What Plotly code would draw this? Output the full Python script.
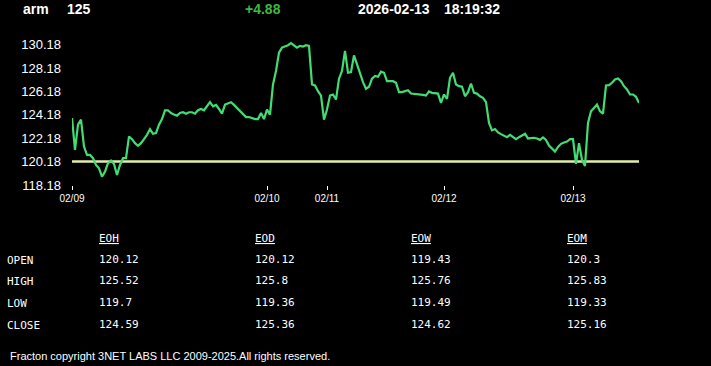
import plotly.graph_objects as go
import numpy as np

# ---------------- data ----------------
symbol = "arm"
last_price = "125"
change = "+4.88"
date_str = "2026-02-13"
time_str = "18:19:32"

prices = [
    123.91, 121.18, 123.34, 123.77, 121.47, 120.75, 120.75, 120.47, 119.89, 119.61,
    118.89, 119.32, 120.04, 120.27, 119.98, 119.03, 119.89, 120.47, 120.47, 122.33,
    122.10, 121.76, 121.53, 121.76, 122.10, 122.47, 122.96, 122.56, 122.62, 123.34,
    123.82, 124.57, 124.57, 124.34, 124.20, 124.11, 124.34, 124.40, 124.28, 124.40,
    124.40, 124.28, 124.57, 124.68, 124.57, 124.97, 125.26, 124.91, 125.03, 124.68,
    124.28, 125.06, 125.14, 125.26, 125.03, 124.77, 124.48, 124.22, 123.99, 123.99,
    123.88, 123.82, 123.82, 124.34, 123.82, 124.63, 124.20, 126.78, 127.93, 129.50,
    129.93, 130.02, 130.13, 130.31, 130.08, 129.93, 130.08, 130.02, 130.13, 130.08,
    126.78, 126.69, 126.20, 125.83, 123.77, 124.63, 125.83, 125.92, 125.49, 127.27,
    127.93, 129.65, 127.78, 127.84, 129.27, 128.50, 127.78, 126.98, 126.41, 126.58,
    127.27, 127.50, 127.44, 127.87, 127.78, 127.06, 127.06, 127.06, 126.92, 126.12,
    126.12, 126.20, 126.29, 126.00, 125.97, 126.00, 125.92, 125.89, 125.83, 126.18,
    126.06, 126.06, 126.00, 125.20, 125.92, 125.54, 127.35, 127.78, 126.78, 126.63,
    126.58, 125.77, 126.12, 126.86, 126.06, 126.00, 125.77, 125.63, 125.26, 123.48,
    122.85, 122.96, 122.68, 122.53, 122.39, 122.27, 122.47, 122.27, 122.10, 122.27,
    122.42, 122.56, 122.16, 122.22, 122.22, 122.16, 122.04, 122.25, 122.04, 121.56,
    121.30, 121.04, 121.44, 121.70, 121.82, 121.90, 122.10, 122.10, 119.98, 121.76,
    120.32, 119.81, 123.48, 124.48, 124.77, 125.06, 124.48, 124.28, 126.69, 126.72,
    126.92, 127.21, 127.29, 127.06, 126.63, 126.35, 125.92, 125.92, 125.72, 125.20,
]
base_level = 120.18
y_ticks = [118.18, 120.18, 122.18, 124.18, 126.18, 128.18, 130.18]
day_labels = ["02/09", "02/10", "02/11", "02/12", "02/13"]
day_index = [0, 65, 85, 124, 167]

table_cols = ["EOH", "EOD", "EOW", "EOM"]
table_rows = ["OPEN", "HIGH", "LOW", "CLOSE"]
eoh = [120.12, 125.52, 119.7, 124.59]
eod = [120.12, 125.8, 119.36, 125.36]
eow = [119.43, 125.76, 119.49, 124.62]
eom = [120.3, 125.83, 119.33, 125.16]
footer = "Fracton copyright 3NET LABS LLC 2009-2025.All rights reserved."

# ---------------- figure ----------------
W, H = 711, 366
ML, MR, MT, MB = 72, 72, 40, 181
PW, PH = W - ML - MR, H - MT - MB

def fx(px):
    return (px - ML) / PW

def fy(py):
    return (H - MB - py) / PH

x = np.arange(len(prices))

fig = go.Figure()
fig.add_trace(go.Scatter(x=[x[0], x[-1]], y=[base_level, base_level], mode="lines",
                         line=dict(color="#e2eda6", width=2.5), hoverinfo="skip"))
fig.add_trace(go.Scatter(x=x, y=prices, mode="lines",
                         line=dict(color="#42dc74", width=2.2), hoverinfo="skip"))

fig.update_layout(
    width=W, height=H,
    margin=dict(l=ML, r=MR, t=MT, b=MB, pad=0),
    paper_bgcolor="black", plot_bgcolor="black",
    showlegend=False,
    xaxis=dict(range=[0, len(prices) - 1], tickvals=day_index, ticktext=day_labels,
               ticks="outside", ticklen=4, tickwidth=1, tickcolor="white",
               showgrid=False, zeroline=False, showline=False, fixedrange=True,
               tickfont=dict(family="Liberation Sans, Arial", size=10, color="white")),
    yaxis=dict(range=[118.18, 130.58], tickvals=y_ticks,
               ticktext=[f"{v:.2f}" for v in y_ticks],
               ticks="", showgrid=False, zeroline=False, showline=False, fixedrange=True,
               ticklabelstandoff=10,
               tickfont=dict(family="Liberation Sans, Arial", size=13, color="white")),
)

ann = []
def text(px, py, s, size, color="white", family="Liberation Sans, Arial", bold=False):
    ann.append(dict(x=fx(px - 2), y=fy(py), xref="paper", yref="paper", text=(f"<b>{s}</b>" if bold else s),
                    showarrow=False, xanchor="left", yanchor="middle",
                    font=dict(family=family, size=size, color=color)))

# header
text(23, 9, symbol, 14, bold=True)
text(66.5, 9, last_price, 14, bold=True)
text(244.5, 9, change, 14, color="#3fb83f", bold=True)
text(357.5, 9, date_str, 14, bold=True)
text(444, 9, time_str, 14, bold=True)

# table
mono = "DejaVu Sans Mono, Liberation Mono, monospace"
col_x = [99, 255, 411, 567]
row_y = [259, 280, 302.5, 324.5]
cols_vals = [eoh, eod, eow, eom]
for cx, name, vals in zip(col_x, table_cols, cols_vals):
    text(cx, 238, f"<u>{name}</u>", 11, family=mono)
    for ry, v in zip(row_y, vals):
        text(cx, ry, str(v), 11, family=mono)
for ry, name in zip(row_y, table_rows):
    text(6.5, ry + 1, name, 11, family=mono)

# footer
text(9.5, 355.5, footer, 11)

fig.update_layout(annotations=ann)
fig.write_html("out.html")
